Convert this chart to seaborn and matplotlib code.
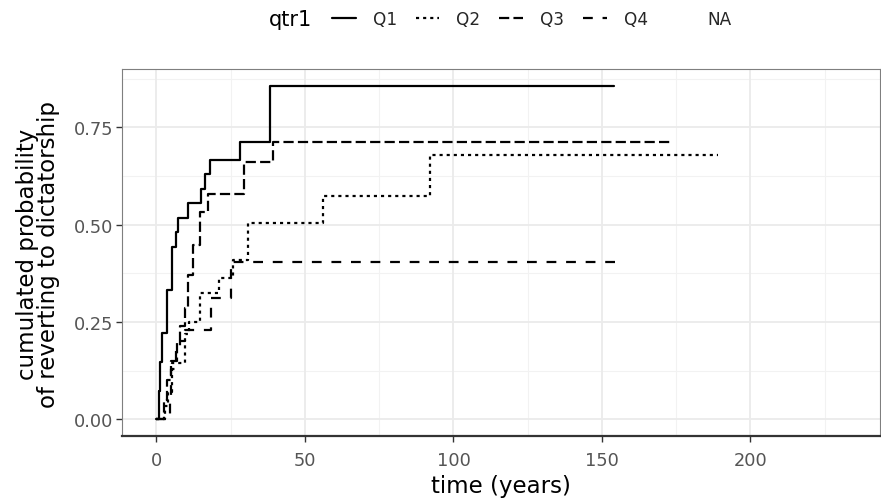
import numpy as np
import pandas as pd
import matplotlib
matplotlib.use("Agg")
import matplotlib.pyplot as plt
from matplotlib.lines import Line2D
import seaborn as sns

# ---- data ----
groups = ["Q1", "Q2", "Q3", "Q4"]
q1_time = [0, 1.0, 1.3, 2.0, 3.5, 5.2, 6.6, 7.4, 10.5, 15.0, 16.5, 18.0, 28.2, 38.3, 154.0]
q1_prob = [0, 0.074, 0.148, 0.222, 0.333, 0.444, 0.481, 0.518, 0.556, 0.593, 0.630, 0.667, 0.713, 0.857, 0.857]
q2_time = [0, 3.0, 4.0, 5.4, 9.5, 11.0, 14.5, 21.0, 25.7, 30.8, 56.0, 92.0, 189.0]
q2_prob = [0, 0.035, 0.07, 0.145, 0.218, 0.25, 0.324, 0.362, 0.409, 0.505, 0.575, 0.68, 0.68]
q3_time = [0, 2.5, 3.5, 5.0, 7.0, 8.0, 9.5, 10.5, 12.2, 14.5, 17.5, 29.6, 39.2, 173.0]
q3_prob = [0, 0.05, 0.10, 0.15, 0.20, 0.24, 0.286, 0.371, 0.447, 0.533, 0.579, 0.662, 0.712, 0.712]
q4_time = [0, 4.5, 5.0, 6.5, 8.0, 9.5, 18.4, 25.0, 156.5]
q4_prob = [0, 0.06, 0.13, 0.18, 0.20, 0.23, 0.311, 0.405, 0.405]
x_ticks = [0, 50, 100, 150, 200]
y_ticks = [0.00, 0.25, 0.50, 0.75]
y_tick_labels = ["0.00", "0.25", "0.50", "0.75"]
legend_labels = ["Q1", "Q2", "Q3", "Q4", "NA"]

frames = []
for g, t, p in zip(groups, [q1_time, q2_time, q3_time, q4_time],
                   [q1_prob, q2_prob, q3_prob, q4_prob]):
    frames.append(pd.DataFrame({"time": t, "prob": p, "qtr1": g}))
df = pd.concat(frames, ignore_index=True)

sns.set_theme(style="white")
plt.rcParams["font.family"] = ["DejaVu Sans"]

W, H = 881, 502
fig = plt.figure(figsize=(W / 100, H / 100), dpi=100)
ax = fig.add_axes([122 / W, 1 - 437 / H, (880 - 122) / W, (437 - 70) / H])

lw = 1.6
dash_map = {"Q1": "", "Q2": (1.4, 1.8), "Q3": (4.6, 1.9), "Q4": (4.4, 4.4)}

# grid (theme_bw-like)
for xv in [25, 75, 125, 175, 225]:
    ax.axvline(xv, color="#F2F2F2", lw=0.8, zorder=0)
for yv in [0.125, 0.375, 0.625, 0.875]:
    ax.axhline(yv, color="#F2F2F2", lw=0.8, zorder=0)
for xv in x_ticks:
    ax.axvline(xv, color="#EBEBEB", lw=1.3, zorder=0)
for yv in y_ticks:
    ax.axhline(yv, color="#EBEBEB", lw=1.3, zorder=0)

sns.lineplot(data=df, x="time", y="prob", style="qtr1", style_order=groups,
             dashes=dash_map, color="black", linewidth=lw,
             drawstyle="steps-post", estimator=None, sort=False,
             legend=False, ax=ax, zorder=3)

ax.set_xlim(-11.6, 243.6)
ax.set_ylim(-0.0428, 0.9)
ax.set_xticks(x_ticks)
ax.set_xticklabels([str(v) for v in x_ticks])
ax.set_yticks(y_ticks)
ax.set_yticklabels(y_tick_labels)
ax.tick_params(axis="both", which="major", length=4, width=1.0, color="#333333",
               labelsize=12.8, labelcolor="#555555", direction="out",
               bottom=True, left=True)
ax.tick_params(axis="y", pad=2.5)
ax.tick_params(axis="x", pad=7)

for side in ["top", "left", "right"]:
    ax.spines[side].set_color("#7F7F7F")
    ax.spines[side].set_linewidth(0.8)
ax.spines["bottom"].set_color("#333333")
ax.spines["bottom"].set_linewidth(1.6)

ax.set_xlabel("")
ax.set_ylabel("")
fig.text(501 / W, 1 - 487 / H, "time (years)", ha="center", va="center",
         fontsize=16.5, color="black")
fig.text(38 / W, 1 - 254 / H, "cumulated probability\nof reverting to dictatorship",
         ha="center", va="center", rotation=90, multialignment="center",
         fontsize=16.5, color="black", linespacing=0.94)

# legend on top
handles = [Line2D([0], [0], color="black", lw=lw)]
for g in groups[1:]:
    handles.append(Line2D([0], [0], color="black", lw=lw, dashes=dash_map[g]))
handles.append(Line2D([0], [0], color="none", lw=lw))
leg = fig.legend(handles, legend_labels, loc="center left",
                 bbox_to_anchor=(332 / W, 1 - 20 / H),
                 ncol=5, frameon=False, fontsize=12.2, handlelength=1.41,
                 handletextpad=1.0, columnspacing=1.1, borderpad=0,
                 borderaxespad=0)
fig.text(312 / W, 1 - 20 / H, "qtr1", ha="right", va="center", fontsize=15,
         color="black")

fig.savefig("out.png", dpi=100)
